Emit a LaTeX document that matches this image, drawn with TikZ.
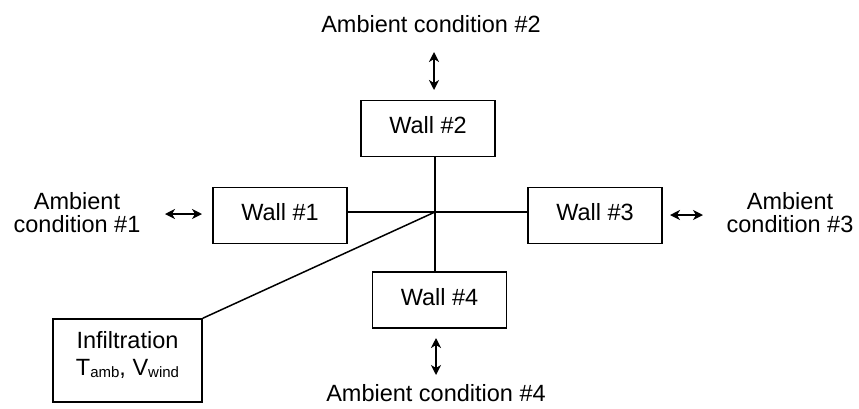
\documentclass[tikz,border=0pt]{standalone}
\usepackage{fontspec}
\setmainfont{Liberation Sans}
\usetikzlibrary{arrows.meta}
\begin{document}
\begin{tikzpicture}[x=1pt,y=-1pt,
  every node/.style={font=\fontsize{23.5}{23}\selectfont},
  wall/.style={draw, line width=1.5pt, minimum width=134pt, minimum height=56pt, inner sep=0pt, text height=17pt, text depth=7pt},
  infbox/.style={draw, line width=1.5pt, minimum width=149pt, minimum height=83pt, inner sep=0pt},
  amb/.style={align=center, inner sep=0pt},
  link/.style={line width=1.5pt},
  twoway/.style={line width=1.5pt, {Stealth[length=10pt,width=10pt,inset=3pt]}-{Stealth[length=10pt,width=10pt,inset=3pt]}}
]
\useasboundingbox (0,0) rectangle (859,408);
% walls
\node[wall] (w2) at (428,128.5) {Wall \#2};
\node[wall] (w1) at (280,215.5) {Wall \#1};
\node[wall] (w3) at (595,215.5) {Wall \#3};
\node[wall] (w4) at (439.5,300) {Wall \#4};
\node[infbox] (inf) at (127.5,360.5) {};
\node[amb, font=\fontsize{23.5}{27}\selectfont] (inftxt) at (127.5,355) {Infiltration\\T{\fontsize{15}{15}\selectfont\raisebox{-2pt}{amb}}, V{\fontsize{15}{15}\selectfont\raisebox{-2pt}{wind}}};
% ambient conditions
\node[amb, anchor=base] (a2) at (431,32) {Ambient condition \#2};
\node[amb, anchor=base] (a4) at (436,401) {Ambient condition \#4};
\node[amb] (a1) at (77,213) {Ambient\\condition \#1};
\node[amb] (a3) at (790,213) {Ambient\\condition \#3};
% junction
\coordinate (J) at (435,212);
\draw[link] (J |- w2.south) -- (J |- w4.north);
\draw[link] (w1.east |- J) -- (w3.west |- J);
\draw[link] (inf.north east) -- (J);
% two-way arrows
\coordinate (t1) at (434,52); \coordinate (t2) at (434,90);
\coordinate (b1) at (436,338); \coordinate (b2) at (436,375);
\coordinate (l1) at (165,214); \coordinate (l2) at (202,214);
\coordinate (r1) at (670,215); \coordinate (r2) at (703,215);
\draw[twoway] (t1) -- (t2);
\draw[twoway] (b1) -- (b2);
\draw[twoway] (l1) -- (l2);
\draw[twoway] (r1) -- (r2);
\end{tikzpicture}
\end{document}
